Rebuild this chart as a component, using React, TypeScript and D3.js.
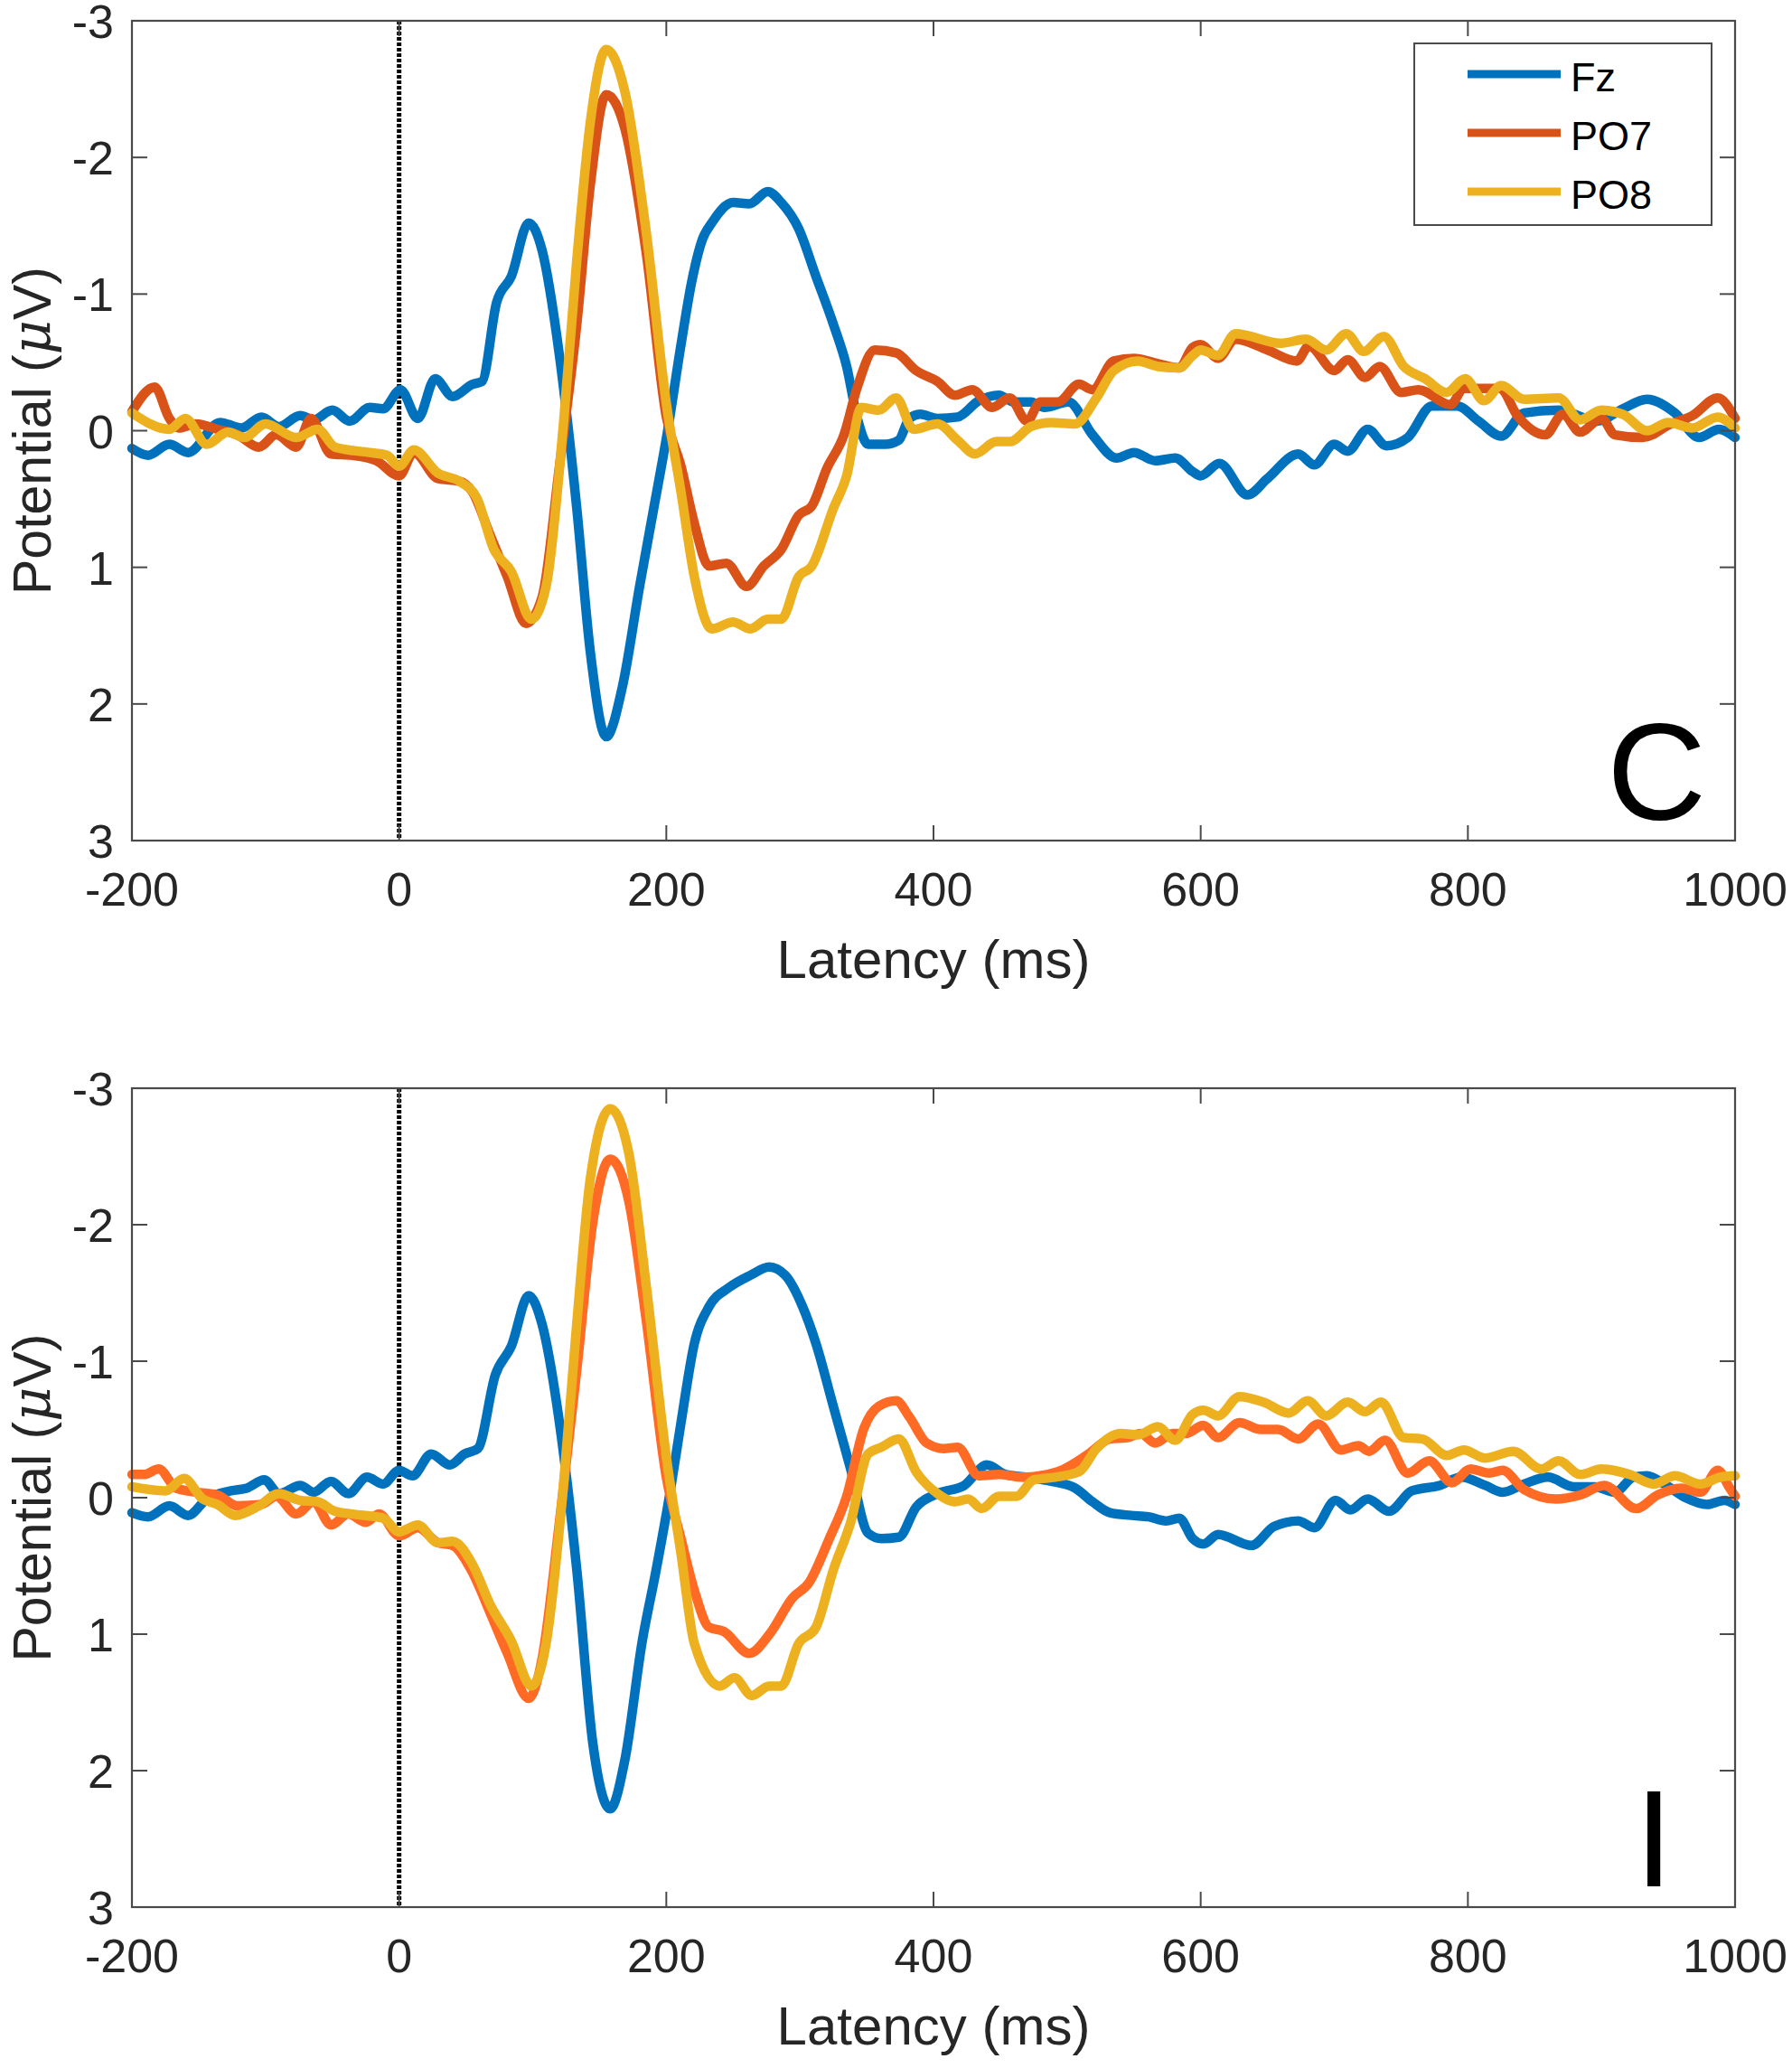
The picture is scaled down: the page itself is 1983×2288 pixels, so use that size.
import React, { useEffect } from 'react'
import * as d3 from 'd3'

type Pt = [number, number]

// latency (ms), potential (µV)
const topFz: Pt[] = [[-200,0.13],[-188,0.18],[-172,0.1],[-158,0.16],[-134,-0.06],[-118,-0.02],[-103,-0.1],[-90,-0.03],[-74,-0.11],[-64,-0.08],[-50,-0.15],[-37,-0.07],[-22,-0.17],[-12,-0.16],[1,-0.3],[14,-0.09],[27,-0.38],[40,-0.25],[55,-0.34],[62,-0.36],[73,-0.94],[84,-1.13],[97,-1.52],[107,-1.32],[120,-0.55],[133,0.57],[143,1.61],[155,2.24],[167,1.88],[180,1.14],[190,0.6],[201,0.0],[211,-0.63],[219,-1.09],[227,-1.4],[234,-1.52],[250,-1.67],[262,-1.66],[276,-1.75],[286,-1.67],[299,-1.48],[312,-1.13],[325,-0.78],[335,-0.47],[343,-0.09],[351,0.1],[364,0.1],[374,0.07],[382,-0.09],[390,-0.12],[403,-0.09],[418,-0.1],[434,-0.22],[449,-0.26],[460,-0.21],[473,-0.21],[483,-0.17],[501,-0.21],[519,0.03],[537,0.2],[550,0.16],[566,0.22],[581,0.2],[594,0.3],[600,0.33],[614,0.24],[635,0.47],[650,0.35],[673,0.17],[685,0.25],[700,0.1],[710,0.15],[725,-0.01],[739,0.11],[755,0.05],[773,-0.18],[792,-0.18],[808,-0.07],[825,0.04],[842,-0.13],[868,-0.15],[897,-0.07],[916,-0.16],[934,-0.23],[955,-0.13],[973,0.05],[988,-0.01],[1000,0.05]]

const topPO7: Pt[] = [[-200,-0.14],[-183,-0.32],[-172,-0.09],[-165,-0.02],[-152,-0.05],[-136,-0.01],[-121,0.03],[-105,0.12],[-92,0.03],[-77,0.12],[-66,-0.09],[-51,0.17],[-35,0.18],[-17,0.22],[0,0.33],[11,0.16],[29,0.35],[45,0.37],[55,0.45],[68,0.76],[81,1.07],[95,1.41],[107,1.22],[120,0.26],[133,-0.78],[143,-1.79],[155,-2.46],[169,-2.21],[185,-1.3],[200,-0.1],[211,0.26],[221,0.68],[232,0.99],[245,0.97],[260,1.14],[273,0.99],[286,0.87],[299,0.62],[309,0.55],[320,0.28],[333,0.03],[343,-0.32],[356,-0.59],[372,-0.57],[387,-0.44],[403,-0.36],[416,-0.26],[429,-0.3],[444,-0.17],[457,-0.24],[470,-0.07],[480,-0.21],[493,-0.21],[509,-0.34],[519,-0.3],[535,-0.51],[550,-0.53],[568,-0.49],[584,-0.46],[594,-0.61],[600,-0.63],[613,-0.53],[626,-0.67],[650,-0.59],[672,-0.51],[681,-0.62],[700,-0.44],[710,-0.52],[723,-0.39],[734,-0.47],[750,-0.28],[763,-0.3],[787,-0.19],[797,-0.31],[824,-0.31],[837,-0.11],[858,0.03],[871,-0.12],[884,0.01],[900,-0.09],[910,0.03],[931,0.05],[952,-0.05],[968,-0.11],[987,-0.24],[1000,-0.09]]

const topPO8: Pt[] = [[-200,-0.13],[-172,-0.01],[-160,-0.09],[-144,0.1],[-128,0.01],[-116,0.05],[-100,-0.05],[-77,0.05],[-61,-0.01],[-48,0.12],[-22,0.16],[-9,0.18],[0,0.26],[11,0.14],[29,0.31],[45,0.37],[58,0.49],[71,0.87],[84,1.03],[99,1.38],[110,1.14],[123,-0.05],[133,-1.25],[143,-2.25],[155,-2.79],[169,-2.48],[185,-1.45],[200,-0.2],[211,0.45],[221,1.07],[234,1.45],[250,1.4],[263,1.45],[276,1.38],[286,1.38],[299,1.07],[309,0.99],[325,0.57],[335,0.33],[346,-0.17],[359,-0.15],[372,-0.24],[385,-0.01],[403,-0.05],[418,0.07],[431,0.17],[447,0.08],[457,0.08],[473,-0.03],[488,-0.06],[506,-0.05],[522,-0.24],[535,-0.44],[553,-0.51],[568,-0.47],[584,-0.46],[594,-0.55],[600,-0.59],[613,-0.55],[626,-0.71],[660,-0.64],[679,-0.67],[694,-0.59],[709,-0.71],[722,-0.58],[737,-0.69],[752,-0.47],[768,-0.38],[784,-0.28],[798,-0.38],[812,-0.22],[825,-0.33],[842,-0.23],[868,-0.24],[884,-0.08],[900,-0.15],[916,-0.12],[934,0],[950,-0.06],[968,-0.02],[987,-0.1],[1000,-0.02]]

const botFz: Pt[] = [[-200,0.11],[-188,0.14],[-172,0.06],[-158,0.13],[-144,0.01],[-126,-0.05],[-114,-0.07],[-101,-0.13],[-90,-0.03],[-74,-0.09],[-64,-0.04],[-51,-0.12],[-38,-0.03],[-24,-0.15],[-12,-0.1],[0,-0.2],[10,-0.16],[24,-0.32],[38,-0.24],[49,-0.32],[59,-0.36],[72,-0.9],[84,-1.11],[97,-1.48],[107,-1.27],[120,-0.55],[133,0.53],[145,1.8],[158,2.28],[169,1.92],[182,1.05],[192,0.55],[203,-0.05],[211,-0.55],[221,-1.13],[232,-1.4],[247,-1.54],[263,-1.63],[277,-1.69],[289,-1.63],[302,-1.4],[312,-1.13],[325,-0.67],[338,-0.21],[351,0.26],[361,0.3],[374,0.29],[387,0.07],[403,-0.03],[423,-0.09],[440,-0.24],[454,-0.17],[470,-0.15],[488,-0.12],[506,-0.07],[519,0.03],[532,0.11],[548,0.13],[561,0.14],[574,0.17],[584,0.15],[594,0.3],[602,0.34],[613,0.27],[638,0.35],[655,0.21],[673,0.17],[685,0.22],[701,0.02],[712,0.09],[725,0.01],[741,0.1],[758,-0.05],[779,-0.09],[795,-0.15],[813,-0.09],[826,-0.04],[842,-0.1],[860,-0.15],[879,-0.08],[895,-0.08],[910,-0.04],[924,-0.15],[934,-0.16],[947,-0.1],[963,0],[979,0.05],[992,0.02],[1000,0.05]]

const botPO7: Pt[] = [[-200,-0.17],[-191,-0.17],[-180,-0.21],[-167,-0.07],[-152,-0.04],[-136,-0.02],[-121,0.06],[-103,0.05],[-92,-0.01],[-77,0.12],[-64,0.03],[-51,0.2],[-38,0.12],[-25,0.18],[-15,0.12],[0,0.28],[14,0.22],[29,0.33],[40,0.35],[55,0.55],[68,0.84],[81,1.14],[97,1.47],[107,1.18],[120,0.18],[133,-0.94],[145,-2.02],[158,-2.48],[172,-2.17],[185,-1.3],[200,-0.15],[211,0.3],[221,0.68],[232,0.95],[243,0.98],[262,1.14],[278,0.99],[294,0.74],[307,0.62],[322,0.3],[335,-0.01],[348,-0.51],[359,-0.67],[372,-0.71],[382,-0.59],[395,-0.4],[408,-0.36],[418,-0.37],[434,-0.16],[449,-0.17],[467,-0.15],[493,-0.19],[516,-0.32],[532,-0.43],[545,-0.44],[555,-0.47],[566,-0.4],[579,-0.47],[589,-0.47],[602,-0.53],[613,-0.44],[629,-0.55],[645,-0.5],[658,-0.5],[673,-0.43],[688,-0.54],[705,-0.35],[718,-0.38],[726,-0.34],[738,-0.42],[755,-0.18],[771,-0.27],[788,-0.11],[802,-0.21],[816,-0.18],[826,-0.2],[842,-0.06],[866,0.01],[884,-0.02],[902,-0.09],[926,0.08],[942,-0.02],[960,-0.07],[974,-0.04],[987,-0.2],[996,-0.07],[1000,-0.01]]

const botPO8: Pt[] = [[-200,-0.08],[-175,-0.05],[-161,-0.14],[-147,0.01],[-136,0.05],[-123,0.13],[-105,0.06],[-90,-0.03],[-74,0.02],[-61,0.03],[-48,0.1],[-35,0.12],[-12,0.15],[0,0.25],[14,0.2],[29,0.33],[40,0.32],[55,0.49],[68,0.78],[84,1.05],[99,1.38],[110,1.07],[123,-0.09],[133,-1.28],[143,-2.33],[158,-2.85],[172,-2.52],[185,-1.55],[200,-0.3],[211,0.41],[221,1.07],[240,1.38],[251,1.32],[264,1.45],[277,1.38],[286,1.38],[299,1.07],[312,0.95],[325,0.53],[338,0.18],[351,-0.32],[361,-0.37],[374,-0.43],[387,-0.19],[403,-0.03],[416,0.03],[426,0.01],[436,0.08],[449,-0.01],[462,-0.01],[475,-0.13],[491,-0.15],[509,-0.19],[522,-0.36],[540,-0.47],[553,-0.46],[568,-0.52],[581,-0.42],[594,-0.61],[602,-0.64],[613,-0.6],[629,-0.74],[647,-0.7],[666,-0.62],[680,-0.71],[694,-0.6],[710,-0.7],[723,-0.63],[735,-0.7],[752,-0.44],[766,-0.43],[784,-0.31],[797,-0.35],[813,-0.29],[834,-0.34],[855,-0.21],[868,-0.27],[884,-0.17],[900,-0.21],[921,-0.17],[939,-0.1],[955,-0.16],[974,-0.1],[989,-0.15],[1000,-0.16]]

const channels = ['Fz', 'PO7', 'PO8']
const xTicks = [-200, 0, 200, 400, 600, 800, 1000]
const yTicks = [-3, -2, -1, 0, 1, 2, 3]

const FONT = '"Liberation Sans", Arial, Helvetica, sans-serif'
const AXIS = '#4a4a4a'
const TEXT = '#262626'

type PanelProps = {
    top: number,
    bottom: number,
    series: Pt[][],
    colors: string[],
    tag: string,
    legend: boolean,
}

const LEFT = 146
const RIGHT = 1920

const Panel = (props: PanelProps) => {
    const x = d3.scaleLinear().domain([-200, 1000]).range([LEFT, RIGHT])
    const y = d3.scaleLinear().domain([-3, 3]).range([props.top, props.bottom])
    const line = d3.line<Pt>()
        .x(d => x(d[0]))
        .y(d => y(d[1]))
        .curve(d3.curveMonotoneX)
    const tick = 17
    const midY = (props.top + props.bottom) / 2

    return (
        <g>
            {/* stimulus onset */}
            <line x1={x(0)} x2={x(0)} y1={props.top} y2={props.bottom}
                stroke="#000" strokeWidth={5} strokeDasharray="4 2" />
            {props.series.map((s, i) => (
                <path key={i} d={line(s)!} fill="none" stroke={props.colors[i]}
                    strokeWidth={10.5} strokeLinejoin="round" strokeLinecap="round" />
            ))}
            <rect x={LEFT} y={props.top} width={RIGHT - LEFT} height={props.bottom - props.top}
                fill="none" stroke={AXIS} strokeWidth={2.2} />
            {xTicks.map(t => (
                <g key={'x' + t}>
                    <line x1={x(t)} x2={x(t)} y1={props.bottom} y2={props.bottom - tick} stroke={AXIS} strokeWidth={2} />
                    <line x1={x(t)} x2={x(t)} y1={props.top} y2={props.top + tick} stroke={AXIS} strokeWidth={2} />
                    <text x={x(t)} y={props.bottom + 54} textAnchor="middle" dominantBaseline="central"
                        fontSize={52} fill={TEXT}>{t}</text>
                </g>
            ))}
            {yTicks.map(t => (
                <g key={'y' + t}>
                    <line x1={LEFT} x2={LEFT + tick} y1={y(t)} y2={y(t)} stroke={AXIS} strokeWidth={2} />
                    <line x1={RIGHT} x2={RIGHT - tick} y1={y(t)} y2={y(t)} stroke={AXIS} strokeWidth={2} />
                    <text x={126} y={y(t) + 19} textAnchor="end"
                        fontSize={52} fill={TEXT}>{t}</text>
                </g>
            ))}
            <text x={(LEFT + RIGHT) / 2} y={props.bottom + 152} textAnchor="middle"
                fontSize={60} fill={TEXT}>Latency (ms)</text>
            <text transform={`translate(56, ${midY}) rotate(-90)`} textAnchor="middle"
                fontSize={59} fill={TEXT}>
                Potential (<tspan fontStyle="italic" fontFamily='"DejaVu Serif", serif'>μ</tspan>V)
            </text>
            <text x={props.tag === 'C' ? 1888 : 1830} y={props.bottom - 23}
                textAnchor={props.tag === 'C' ? 'end' : 'middle'} fontSize={152} fill="#000">{props.tag}</text>
            {props.legend && (
                <g>
                    <rect x={1565} y={props.top + 25} width={329} height={201}
                        fill="#fff" stroke={AXIS} strokeWidth={2} />
                    {channels.map((c, i) => (
                        <g key={c}>
                            <line x1={1624} x2={1727} y1={props.top + 59 + i * 65} y2={props.top + 59 + i * 65}
                                stroke={props.colors[i]} strokeWidth={9} />
                            <text x={1738} y={props.top + 62 + i * 65} dominantBaseline="central"
                                fontSize={45} fill="#000">{c}</text>
                        </g>
                    ))}
                </g>
            )}
        </g>
    )
}

const App = () => {
    useEffect(() => {
        document.body.style.margin = '0'
    }, [])

    return (
        <svg width={1983} height={2288} style={{ position: 'absolute', left: 0, top: 0, background: '#fff' }}
            fontFamily={FONT}>
            <rect width={1983} height={2288} fill="#fff" />
            <Panel top={23} bottom={930} series={[topFz, topPO7, topPO8]}
                colors={['#0072BD', '#D95319', '#EDB120']} tag="C" legend={true} />
            <Panel top={1204} bottom={2110} series={[botFz, botPO7, botPO8]}
                colors={['#0072BD', '#FF6A24', '#EDB120']} tag="I" legend={false} />
        </svg>
    )
}

export default App
